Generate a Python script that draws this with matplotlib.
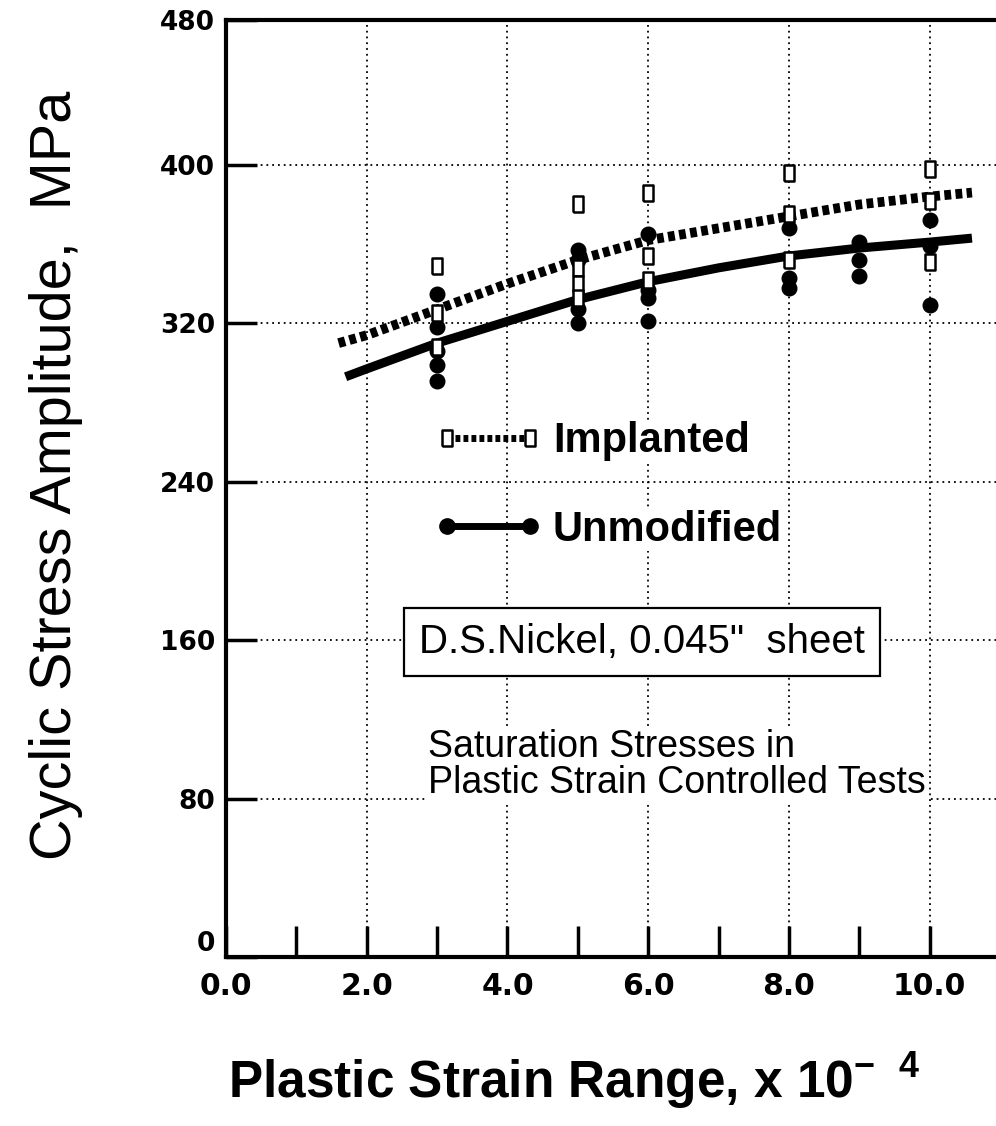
import matplotlib
matplotlib.use("Agg")
import matplotlib.pyplot as plt
from matplotlib.lines import Line2D

plt.rcParams['font.family'] = ['Liberation Sans', 'DejaVu Sans']
plt.rcParams['mathtext.fontset'] = 'custom'
plt.rcParams['mathtext.rm'] = 'Liberation Sans'
plt.rcParams['mathtext.bf'] = 'Liberation Sans:bold'

# Datos (deformacion plastica en unidades de 10^-4, tension en MPa)
imp_x = [3, 3, 3, 5, 5, 5, 5, 6, 6, 6, 8, 8, 8, 10, 10, 10]
imp_y = [349, 325, 308, 380, 348, 340, 333, 386, 354, 342, 396, 375, 352, 398, 382, 351]

unm_x = [3, 3, 3, 3, 3, 5, 5, 5, 5, 6, 6, 6, 6, 8, 8, 8, 9, 9, 9, 10, 10, 10]
unm_y = [335, 318, 306, 299, 291, 357, 352, 327, 320, 365, 337, 333, 321,
         368, 343, 338, 361, 352, 344, 372, 359, 329]

# curvas de ajuste
ajuste_imp_x = [1.6, 2, 3, 4, 5, 6, 7, 8, 9, 10, 10.6]
ajuste_imp_y = [310, 314, 327, 340, 352, 362, 368, 374, 380, 384, 386]
ajuste_unm_x = [1.7, 2, 3, 4, 5, 6, 7, 8, 9, 10, 10.6]
ajuste_unm_y = [293, 297, 310, 321, 332, 341, 348, 354, 358, 361, 363]

xticks_may = [0, 2, 4, 6, 8, 10]
xticks_men = [1, 3, 5, 7, 9]
xetiquetas = ["0.0", "2.0", "4.0", "6.0", "8.0", "10.0"]
yticks = [0, 80, 160, 240, 320, 400, 473]
yetiquetas = ["0", "80", "160", "240", "320", "400", "480"]

# marcador rectangular (cuadro abierto algo alto)
rect = [(-0.7, -1), (0.7, -1), (0.7, 1), (-0.7, 1), (-0.7, -1)]
estilo_rayado = (0, (0.7, 0.45))


def generar_diagrama():
    fig = plt.figure(figsize=(9.96, 11.26), dpi=100)
    ax = fig.add_axes([0.2269, 0.150, 0.773, 0.832])

    # Curvas
    ax.plot(ajuste_imp_x, ajuste_imp_y, color='black', lw=7, linestyle=estilo_rayado,
            dash_capstyle='butt', zorder=3)
    ax.plot(ajuste_unm_x, ajuste_unm_y, color='black', lw=6.5, solid_capstyle='butt', zorder=3)

    # Puntos
    ax.plot(unm_x, unm_y, linestyle='none', marker='o', ms=10.5, color='black', zorder=4)
    ax.plot(imp_x, imp_y, linestyle='none', marker=rect, ms=11, mfc='white', mec='black',
            mew=1.8, zorder=5)

    # Ejes
    ax.set_xlim(0, 10.94)
    ax.set_ylim(0, 473)
    ax.set_xticks(xticks_may)
    ax.set_xticks(xticks_men, minor=True)
    ax.set_xticklabels(xetiquetas, family='DejaVu Sans', fontweight='bold', fontsize=21.5)
    ax.set_yticks(yticks)
    ax.set_yticklabels(yetiquetas, family='DejaVu Sans', fontweight='bold', fontsize=19)
    ax.yaxis.get_major_ticks()[0].label1.set_verticalalignment('bottom')

    ax.tick_params(which='both', direction='in', length=22, width=2.5, top=False, right=False)
    ax.tick_params(axis='x', pad=11)
    ax.tick_params(axis='y', pad=8)

    for lado in ['left', 'bottom', 'top']:
        ax.spines[lado].set_linewidth(3)
    ax.spines['right'].set_visible(False)

    ax.set_axisbelow(True)
    ax.grid(True, which='major', color='black', linestyle=(0, (1, 2.2)), linewidth=1.3)

    # Rotulos
    ax.set_ylabel('Cyclic Stress Amplitude,  MPa', fontsize=41.5)
    ax.yaxis.set_label_coords(-0.186, 0.514)
    ax.set_xlabel(r'Plastic Strain Range, x 10$^{\mathbf{-\ \ 4}}$', fontsize=37,
                  fontweight='bold')
    ax.xaxis.set_label_coords(0.452, -0.1)

    # Leyenda
    manejadores = [
        Line2D([], [], color='black', lw=5, linestyle=estilo_rayado, dash_capstyle='butt',
               marker=rect, ms=11, mfc='white', mec='black', mew=1.8),
        Line2D([], [], color='black', lw=5, marker='o', ms=11, mfc='black', mec='black'),
    ]
    leg = ax.legend(manejadores, ['Implanted', 'Unmodified'], loc='upper left',
                    bbox_to_anchor=(0.271, 0.572), frameon=False, numpoints=2,
                    prop={'weight': 'bold', 'size': 30},
                    handlelength=2.59, handletextpad=0.25, labelspacing=1.17,
                    borderaxespad=0, borderpad=0)
    for t in leg.get_texts():
        t.set_bbox(dict(facecolor='white', edgecolor='none', pad=1))
    leg.set_zorder(6)

    # Cuadro de texto
    ax.text(5.91, 159, 'D.S.Nickel, 0.045"  sheet', fontsize=29, ha='center', va='center',
            zorder=6, bbox=dict(boxstyle='square,pad=0.38', facecolor='white',
                                edgecolor='black', linewidth=1.6))

    ax.text(2.87, 97, 'Saturation Stresses in\nPlastic Strain Controlled Tests', fontsize=27,
            ha='left', va='center', linespacing=1.0, zorder=6,
            bbox=dict(facecolor='white', edgecolor='none', pad=2))

    fig.savefig('out.png', dpi=100)


if __name__ == "__main__":
    generar_diagrama()
